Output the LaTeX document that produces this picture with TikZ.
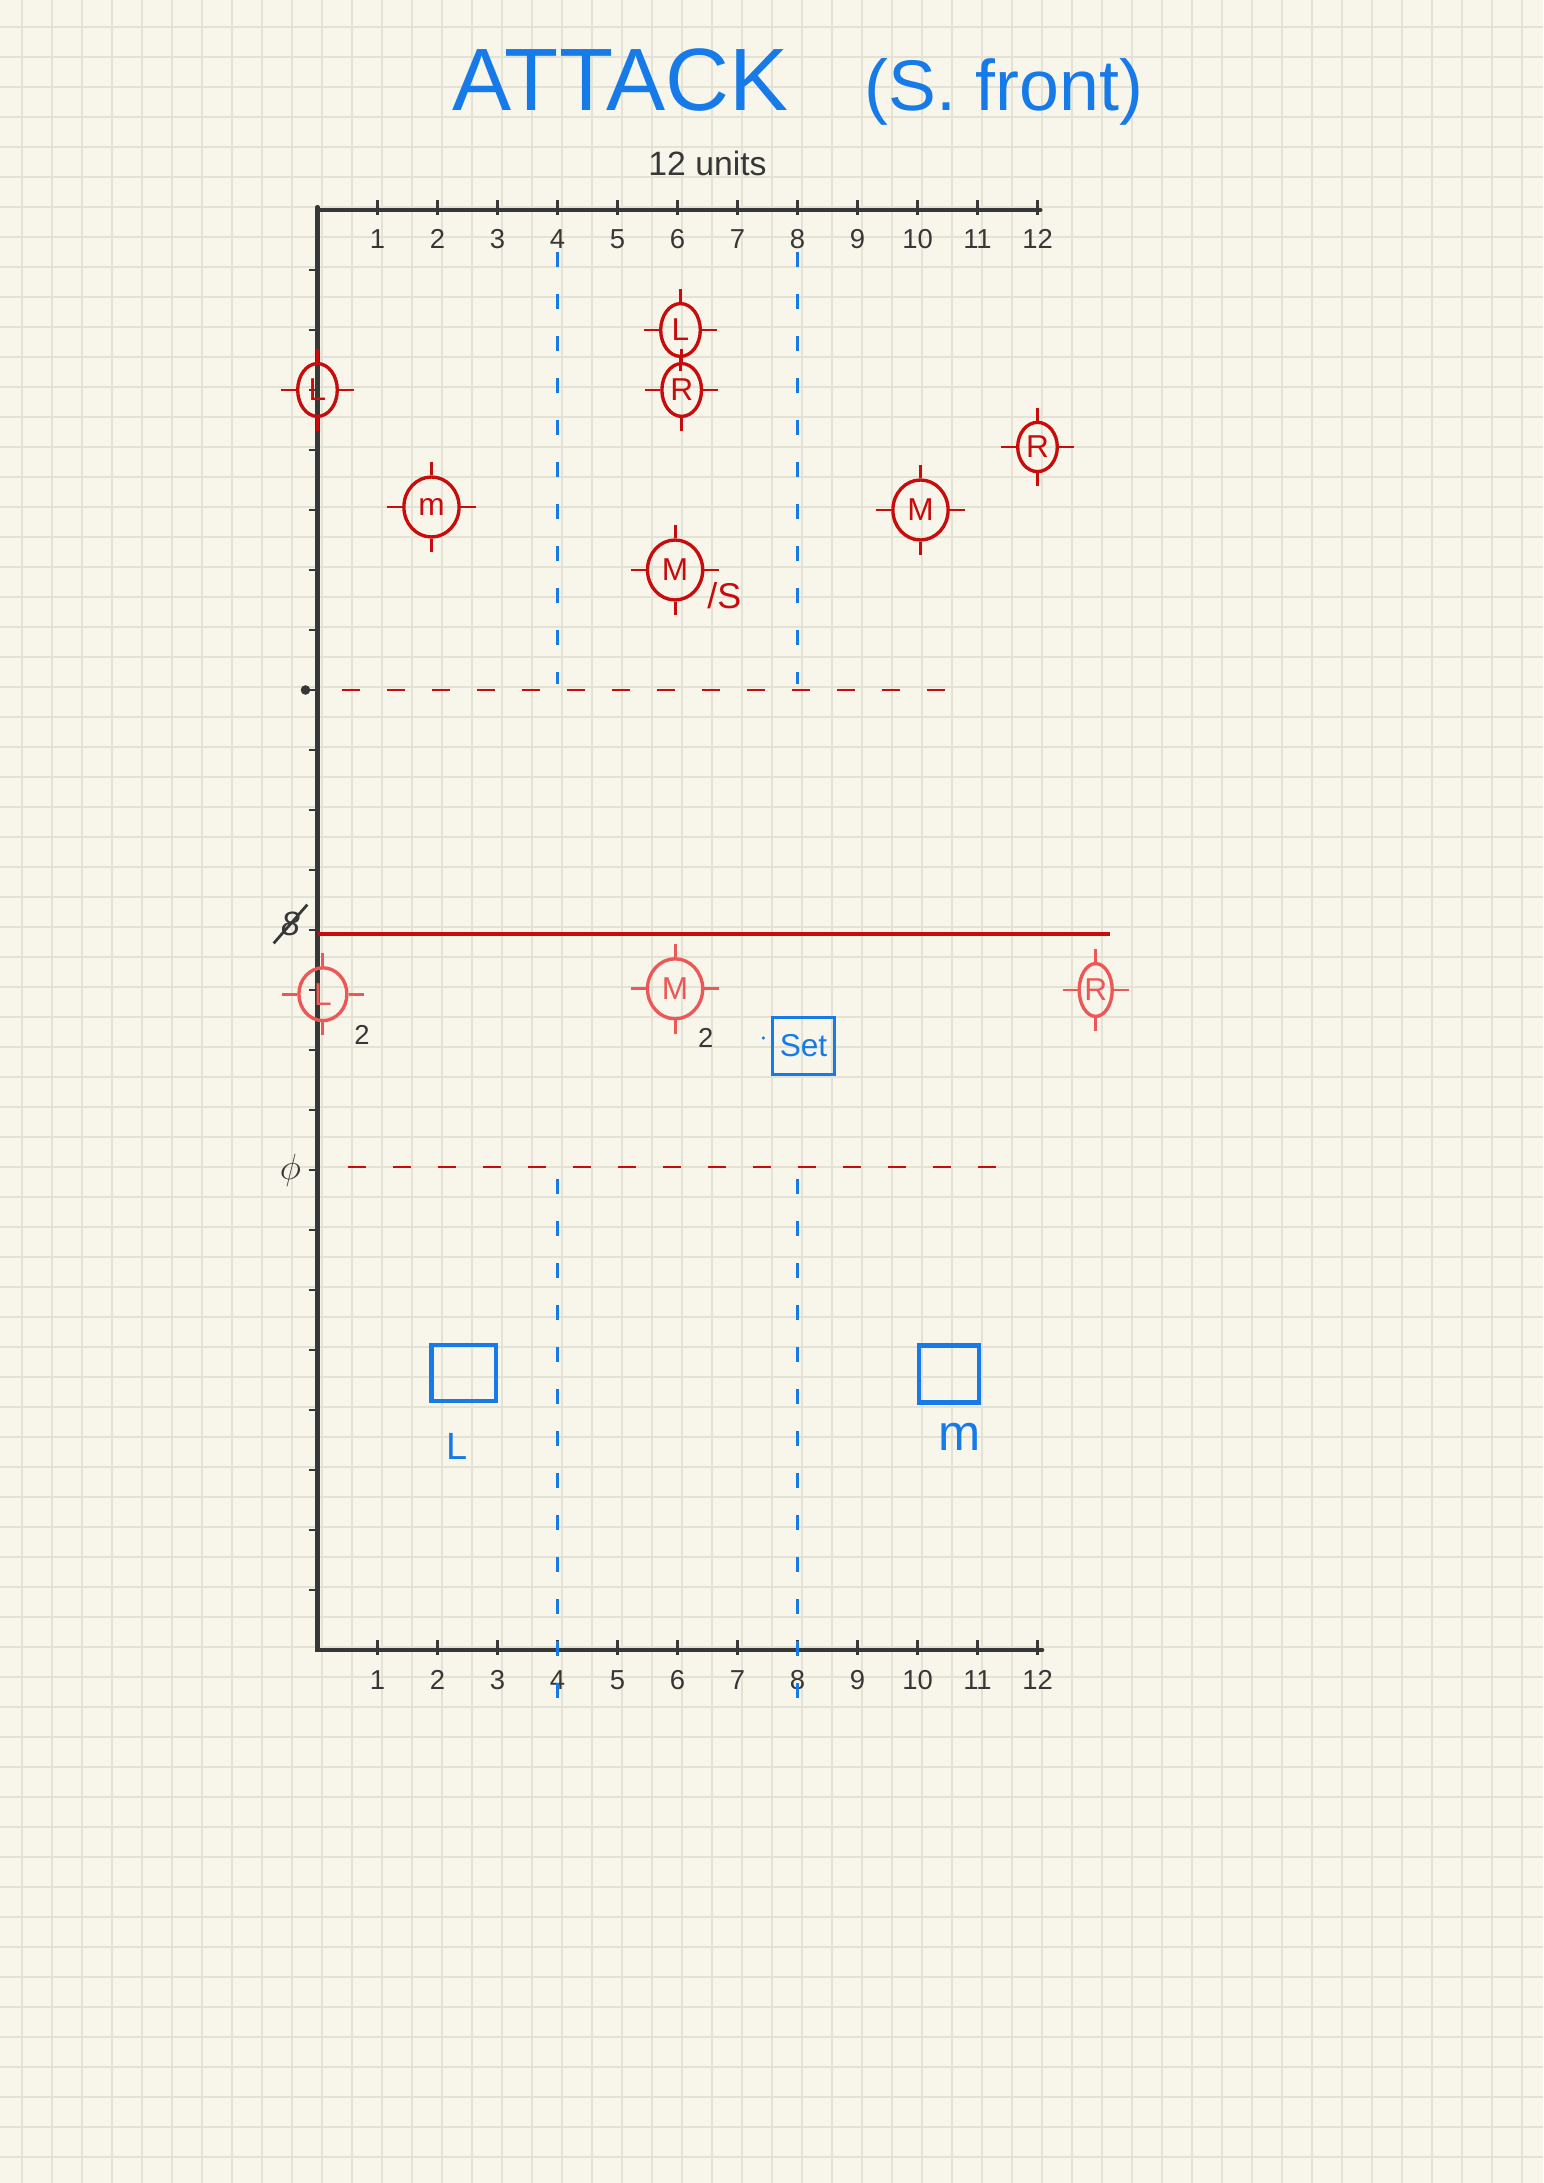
\documentclass[tikz,border=0pt]{standalone}
\usepackage{fontspec}
\setmainfont{Liberation Sans}
\usepackage{tikz}
\usetikzlibrary{arrows.meta, positioning, shapes.geometric, calc}
\definecolor{paper}{RGB}{248,246,234}
\definecolor{gridc}{RGB}{228,225,213}
\definecolor{ink}{RGB}{55,55,55}
\definecolor{redink}{RGB}{200,12,12}
\definecolor{pinkink}{RGB}{236,88,88}
\definecolor{blueink}{RGB}{22,122,232}

\begin{document}
\begin{tikzpicture}[
    axis/.style={line width=1.9pt, ink, line cap=round},
    tick/.style={line width=1.2pt, ink},
    gridline/.style={gridc, line width=0.9pt},
    tgt/.style={ellipse, draw=redink, text=redink, line width=1.6pt, inner sep=0pt,
                minimum width=0.66cm, minimum height=0.88cm, font=\fontsize{15}{15}\selectfont},
    bigtgt/.style={tgt, minimum width=0.92cm, minimum height=1.0cm},
    faded/.style={draw=pinkink, text=pinkink},
    zone/.style={blueink, line width=1pt, dash pattern=on 0.25cm off 0.45cm},
    front/.style={redink, line width=1.4pt, dash pattern=on 0.3cm off 0.45cm},
    num/.style={ink, font=\fontsize{13}{13}\selectfont}
  ]
  % paper and grid
  \fill[paper] (-5.2917,-8.8833) rectangle (20.425,27.5);
  \useasboundingbox (-5.2917,-8.8833) rectangle (20.425,27.5);
  \begin{scope}
    \clip (-5.2917,-8.8833) rectangle (20.425,27.5);
    \foreach \gx in {-10,...,40}
      \draw[gridline] ({0.07+0.5*\gx},-9) -- ++(0,36.6);
    \foreach \gy in {-18,...,54}
      \draw[gridline] (-5.4,{0.055+0.5*\gy}) -- ++(26,0);
  \end{scope}

  % title
  \node[blueink, inner sep=0pt, font=\fontsize{42}{42}\selectfont] (title) at (5.05,26.17) {ATTACK};
  \node[blueink, inner sep=0pt, font=\fontsize{34}{34}\selectfont, base right=1.25cm of title] (subtitle) {(S. front)};
  \node[ink, font=\fontsize{16}{16}\selectfont] (units) at (6.5,24.78) {12 units};

  % axes
  \coordinate (o) at (0,0);
  \coordinate (tl) at (0,24.05);
  \coordinate (tr) at (12.05,24);
  \coordinate (br) at (12.08,0);
  \draw[axis] (tr) -- (0,24) -- (o) -- (br);
  \draw[axis] (tl) -- (0,24);
  \foreach \i in {1,...,12} {
    \draw[tick] (\i,23.92) -- (\i,24.17);
    \node[num] (tt\i) at (\i,23.52) {\i};
    \draw[tick] (\i,-0.08) -- (\i,0.17);
    \node[num] (bt\i) at (\i,-0.5) {\i};
  }
  \foreach \j in {1,...,23}
    \draw[tick] (-0.14,\j) -- (0.03,\j);

  % marks left of the axis
  \fill[ink] (-0.2,16) circle (0.08);
  \node[ink, font=\fontsize{16}{16}\selectfont\itshape] (s12) at (-0.45,12.1) {8};
  \draw[ink, line width=1.3pt] (s12.south west) -- (s12.north east);
  \node[ink, font=\fontsize{16}{16}\selectfont] (s8) at (-0.45,8.0) {$\phi$};

  % zone lines
  \foreach \x in {4,8} {
    \draw[zone] (\x,23.3) -- (\x,16.1);
    \draw[zone] (\x,7.85) -- (\x,-0.9);
  }

  % fronts
  \draw[front] (0.4,16) -- (10.8,16);
  \draw[redink, line width=1.9pt] (0,11.93) -- (13.2,11.93);
  \draw[front] (0.5,8.05) -- (11.4,8.05);

  % enemy units
  \node[tgt] (l1) at (0,21) {L};
  \node[tgt] (l2) at (6.05,22) {L};
  \node[tgt] (r1) at (6.07,21) {R};
  \node[tgt, minimum height=0.82cm] (r2) at (12,20.05) {R};
  \node[bigtgt] (m1) at (1.9,19.05) {m};
  \node[bigtgt] (m2) at (10.05,19) {M};
  \node[bigtgt] (m3) at (5.96,18) {M};
  \node[redink, font=\fontsize{17}{17}\selectfont] (m3s) at (6.78,17.57) {/S};
  \node[tgt, faded, minimum width=0.8cm] (l3) at (0.09,10.93) {L};
  \node[bigtgt, faded] (m4) at (5.96,11.02) {M};
  \node[tgt, faded, minimum width=0.55cm] (r3) at (12.97,11) {R};
  \node[num] (c1) at (0.74,10.25) {2};
  \node[num] (c2) at (6.47,10.2) {2};
  % crosshairs
  \foreach \t/\c in {l1/redink, l2/redink, r1/redink, r2/redink, m1/redink,
                     m2/redink, m3/redink, l3/pinkink, m4/pinkink, r3/pinkink} {
    \draw[\c, line width=1.4pt] (\t.north) -- ++(0,0.22) (\t.south) -- ++(0,-0.22)
      (\t.east) -- ++(0.25,0) (\t.west) -- ++(-0.25,0);
  }

  % own units
  \node[draw=blueink, text=blueink, line width=1.6pt, minimum width=1.0cm, minimum height=0.95cm,
        font=\fontsize{15}{15}\selectfont] (set) at (8.1,10.07) {Set};
  \fill[blueink] (7.43,10.2) circle (0.03);
  \node[draw=blueink, line width=2pt, minimum width=1.08cm, minimum height=0.93cm] (sqL) at (2.44,4.62) {};
  \node[draw=blueink, line width=2pt, minimum width=1.0cm, minimum height=0.95cm] (sqM) at (10.53,4.6) {};
  \node[blueink, font=\fontsize{18}{18}\selectfont] (lblL) at (2.33,3.4) {L};
  \node[blueink, font=\fontsize{24}{24}\selectfont] (lblM) at (10.7,3.55) {m};
\end{tikzpicture}
\end{document}
